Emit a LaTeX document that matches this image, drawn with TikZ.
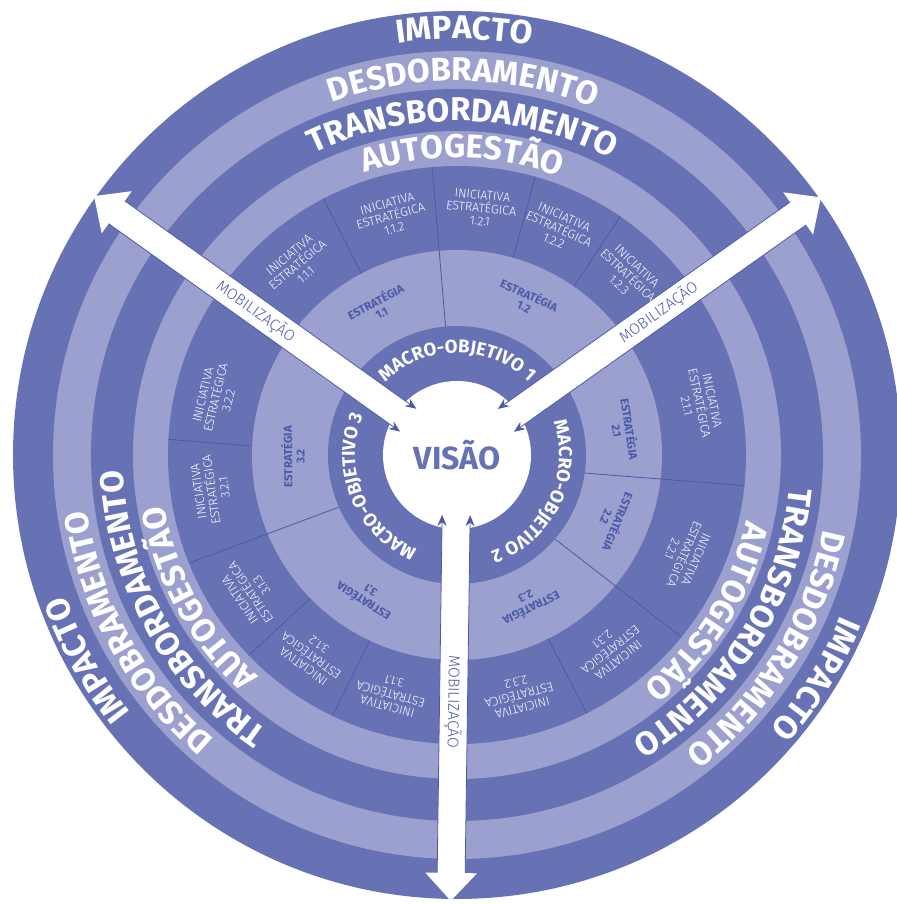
\documentclass[tikz,border=0pt]{standalone}
\usepackage{fontspec}
\setmainfont{Fira Sans}
\newfontfamily\thinfont{Fira Sans Light}
\usepackage{xcolor}
\usepackage{tikz}
\usetikzlibrary{arrows.meta, decorations.text}

\definecolor{ringdark}{RGB}{103,114,181}
\definecolor{ringlight}{RGB}{155,160,207}
\definecolor{inkblue}{RGB}{76,89,168}

\newcommand\ringfont{\fontsize{33}{33}\selectfont\bfseries}
\newcommand\macrofont{\fontsize{18.5}{18.5}\selectfont\bfseries}

\begin{document}
\begin{tikzpicture}[
  band/.style={fill=#1},
  secline/.style={draw=inkblue, line width=0.8pt},
  estrat/.style={text=inkblue, font=\fontsize{11.5}{12.5}\selectfont\bfseries,
    align=center, inner sep=0pt},
  inic/.style={text=white, font=\thinfont\fontsize{12.5}{13}\selectfont,
    align=center, inner sep=0pt},
  mobil/.style={text=inkblue, font=\thinfont\fontsize{15.5}{15.5}\selectfont, inner sep=0pt},
  visao/.style={circle, fill=white, minimum size=148pt, inner sep=0pt,
    text=ringdark, font=\fontsize{32}{32}\selectfont\bfseries},
  shaft/.style={draw=white, line width=28pt, -{Triangle[length=28pt, width=50pt]}},
  rimline/.style={draw=inkblue, line width=0.8pt, -{Stealth[length=11pt, width=9pt]}},
  ringtext/.style={decorate, decoration={text along path, text align=center,
    text color=white, text/.expanded={|\noexpand\ringfont|#1}}},
  macrotext/.style={decorate, decoration={text along path, text align=center,
    text color=white, text/.expanded={|\noexpand\macrofont|#1}}}
]
  \useasboundingbox (-457pt,-449pt) rectangle (439pt,455pt);

  % rings
  \foreach \r/\c in {444/ringdark, 404/ringlight, 366/ringdark, 324/ringlight,
                     289/ringdark, 205/ringlight, 129/ringdark}
    \fill[band=\c] (0,0) circle[radius=\r pt];

  % sector lines (strategies, then initiatives)
  \foreach \p/\rin in {94.8/129, -4.5/129, -37.8/129, 200.5/129,
                       116.8/205, 74.7/205, 56.5/205, -62.6/205,
                       243.8/205, 222.7/205, 175.3/205} {
    \pgfmathsetmacro\ra{\rin+8*sin(\p)}
    \pgfmathsetmacro\rb{289+8*sin(\p)}
    \draw[secline] ([yshift=-8pt]\p:\ra pt) -- ([yshift=-8pt]\p:\rb pt);
  }

  % mobilization arrows
  \coordinate (c) at (0,0);
  \foreach \ang/\id in {144.5/ul, 35.3/ur, 269.2/dn} {
    \coordinate (tip-\id) at (\ang:446pt);
    \draw[shaft] (c) -- (tip-\id);
  }
  \node[visao] (vis) at (c) {VISÃO};
  \foreach \ang/\id in {144.5/ul, 35.3/ur, 269.2/dn} {
    \begin{scope}[rotate=\ang]
      \coordinate (\id-o1) at (418pt,14pt);
      \coordinate (\id-i1) at (60pt,14pt);
      \coordinate (\id-o2) at (418pt,-14pt);
      \coordinate (\id-i2) at (60pt,-14pt);
      \draw[rimline] (\id-o1) -- (\id-i1);
      \draw[rimline] (\id-o2) -- (\id-i2);
    \end{scope}
  }
  \foreach \ang/\rot/\id in {144.5/-35.5/ul, 35.3/35.3/ur, 269.2/-90.8/dn}
    \node[mobil, rotate=\rot] (mob-\id) at (\ang:247pt) {MOBILIZAÇÃO};

  % ring words
  \foreach \ang in {89,209,328}
    \foreach \w/\r in {IMPACTO/416, DESDOBRAMENTO/374, TRANSBORDAMENTO/334, AUTOGESTÃO/297}
      \path[ringtext=\w] (\ang+75:\r pt) arc[start angle=\ang+75, end angle=\ang-75, radius=\r pt];

  % macro-objectives
  \foreach \ang/\w in {90/1, -26/2, 202/3}
    \path[macrotext=MACRO-OBJETIVO \w] (\ang+85:102pt) arc[start angle=\ang+85, end angle=\ang-85, radius=102pt];

  % strategies
  \foreach \a/\r/\id/\t in {118/168/e11/1.1, 65.7/170/e12/1.2, 8.5/169/e21/2.1,
      -22.6/169/e22/2.2, -64.1/165/e23/2.3, 237.4/168/e31/3.1, 180.6/164/e32/3.2}
    \node[estrat, rotate=\a-90] (\id) at (\a:\r pt) {ESTRATÉGIA\\\t};

  % initiatives
  \foreach \a/\id/\t in {130/i111/1.1.1, 105.5/i112/1.1.2, 84.4/i121/1.2.1,
      65.7/i122/1.2.2, 46.4/i123/1.2.3, 12/i211/2.1.1, -23.6/i221/2.2.1,
      -51.8/i231/2.3.1, -75.5/i232/2.3.2, 254.5/i311/3.1.1, 234/i312/3.1.2,
      213.7/i313/3.1.3, 188/i321/3.2.1, 166.6/i322/3.2.2}
    \node[inic, rotate=\a-90] (\id) at (\a:248pt) {INICIATIVA\\ESTRATÉGICA\\\t};
\end{tikzpicture}
\end{document}
